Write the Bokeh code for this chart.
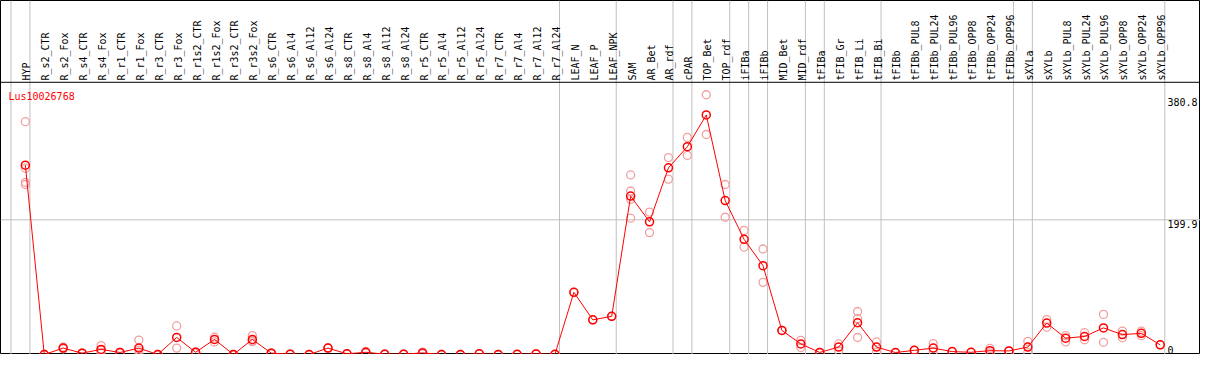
import numpy as np
from bokeh.plotting import figure
from bokeh.models import Range1d, ColumnDataSource, Span
from bokeh.core.properties import value
from bokeh.embed import file_html
from bokeh.resources import INLINE

title = "Lus10026768"

categories = [
    "HYP", "R_s2_CTR", "R_s2_Fox", "R_s4_CTR", "R_s4_Fox", "R_r1_CTR", "R_r1_Fox",
    "R_r3_CTR", "R_r3_Fox", "R_r1s2_CTR", "R_r1s2_Fox", "R_r3s2_CTR", "R_r3s2_Fox",
    "R_s6_CTR", "R_s6_Al4", "R_s6_Al12", "R_s6_Al24", "R_s8_CTR", "R_s8_Al4",
    "R_s8_Al12", "R_s8_Al24", "R_r5_CTR", "R_r5_Al4", "R_r5_Al12", "R_r5_Al24",
    "R_r7_CTR", "R_r7_Al4", "R_r7_Al12", "R_r7_Al24", "LEAF_N", "LEAF_P", "LEAF_NPK",
    "SAM", "AR_Bet", "AR_rdf", "cPAR", "TOP_Bet", "TOP_rdf", "iFIBa", "iFIBb",
    "MID_Bet", "MID_rdf", "tFIBa", "tFIB_Gr", "tFIB_Li", "tFIB_Bi", "tFIBb",
    "tFIBb_PUL8", "tFIBb_PUL24", "tFIBb_PUL96", "tFIBb_OPP8", "tFIBb_OPP24",
    "tFIBb_OPP96", "sXYLa", "sXYLb", "sXYLb_PUL8", "sXYLb_PUL24", "sXYLb_PUL96",
    "sXYLb_OPP8", "sXYLb_OPP24", "sXYLb_OPP96",
]

means = [
    281.0, 0.0, 9.5, 2.0, 7.6, 3.0, 9.5, 0.0, 25.3, 3.3, 22.4, 0.0, 22.4,
    2.0, 0.5, 0.0, 9.5, 1.0, 3.3, 0.5, 0.5, 2.4, 0.0, 0.0, 1.0,
    0.0, 0.3, 0.8, 0.3, 92.3, 51.4, 56.7,
    235.1, 197.0, 277.0, 308.4, 355.5, 228.4, 170.9, 131.8,
    35.7, 15.7, 3.0, 11.0, 47.1, 11.0, 2.9,
    6.2, 9.5, 4.3, 3.3, 5.7, 5.3,
    11.0, 46.7, 24.3, 26.7, 39.5, 29.5, 31.4, 14.3,
]

replicates = [
    [345.5, 276.5, 255.6, 252.3], [0.5, 0.0], [11.0, 8.5], [2.5, 1.5], [13.3, 3.0, 6.5],
    [3.0, 3.0], [21.4, 0.5, 6.5], [0.0, 0.0], [42.4, 9.5], [4.0, 2.5], [25.7, 18.6],
    [0.0, 0.0], [28.0, 19.0, 20.0], [2.5, 1.5], [0.5, 0.5], [0.0, 0.0], [10.0, 9.0],
    [1.0, 1.0], [4.5, 2.0], [0.5, 0.5], [0.5, 0.5], [3.5, 1.3], [0.0, 0.0], [0.0, 0.0],
    [1.0, 1.0], [0.0, 0.0], [0.3, 0.3], [0.8, 0.8], [0.3, 0.3], [92.3], [51.4], [56.7],
    [266.5, 242.7, 230.3, 202.3], [211.3, 180.9], [292.2, 260.3], [322.2, 295.5],
    [385.5, 326.5], [252.3, 203.7], [184.2, 159.5], [156.6, 107.1],
    [35.7], [21.0, 10.4], [3.0], [15.7, 5.3], [63.8, 53.3, 25.2], [18.6, 3.3], [2.9],
    [6.2, 6.2], [16.2, 4.3], [4.3], [3.3], [9.0, 2.3], [5.3],
    [19.5, 2.9], [51.8, 40.4], [28.1, 18.6], [32.4, 21.9], [59.5, 18.1], [34.7, 24.8],
    [34.7, 28.0], [14.3],
]

y_ticks = [0, 199.9, 380.8]
y_tick_labels = ["0", "199.9", "380.8"]
group_ends = [-1, 0, 28, 31, 34, 35, 37, 38, 39, 41, 42, 45, 52, 53, 60]

FONT = value("DejaVu Sans Mono")
W, H = 1200, 354
X0, X1 = -1.315, 62.13
YTOP = 525.4
HEADER = 404.0

p = figure(width=W, height=H, x_range=Range1d(X0, X1), y_range=Range1d(0, YTOP),
           x_axis_type=None, y_axis_type=None, toolbar_location=None,
           output_backend="svg", min_border=0)
p.outline_line_color = "black"
p.outline_line_width = 1
p.background_fill_color = "white"
p.border_fill_color = "white"

# group separators (vertical grid lines)
for g in group_ends:
    p.add_layout(Span(location=g + 0.24, dimension="height", line_color="#c0c0c0",
                      line_width=1, level="underlay"))
# horizontal grid line at middle tick
p.add_layout(Span(location=y_ticks[1], dimension="width", line_color="#c0c0c0",
                  line_width=1, level="underlay"))
# header separator
p.add_layout(Span(location=HEADER, dimension="width", line_color="black",
                  line_width=1, level="underlay"))

idx = list(range(len(categories)))

# category labels (rotated)
p.text(x=[i + 0.08 for i in idx], y=[HEADER + 2.5] * len(idx), text=categories,
       angle=np.pi / 2, text_font=FONT, text_font_size="10px", text_align="left",
       text_baseline="alphabetic", text_color="black")

# replicates
rx, ry = [], []
for i, reps in enumerate(replicates):
    for v in reps:
        rx.append(i)
        ry.append(v)
p.scatter(x=rx, y=ry, marker="circle", size=8, fill_color=None,
          line_color="#f0a0a0", line_width=1.3)

# mean line and markers
src = ColumnDataSource(dict(x=idx, y=means))
p.line(x="x", y="y", source=src, line_color="red", line_width=1)
p.scatter(x="x", y="y", source=src, marker="circle", size=8, fill_color=None,
          line_color="red", line_width=1.5)

# title
p.text(x=[X0 + 0.42], y=[382.6], text=[title], text_font=FONT, text_font_size="10px",
       text_color="red", text_align="left", text_baseline="alphabetic")

# y tick labels on right
TX = 60.38
p.text(x=[TX], y=[y_ticks[0]], text=[y_tick_labels[0]], text_font=FONT,
       text_font_size="10px", text_color="black", text_align="left",
       text_baseline="bottom", y_offset=-1)
p.text(x=[TX] * 2, y=y_ticks[1:], text=y_tick_labels[1:], text_font=FONT,
       text_font_size="10px", text_color="black", text_align="left",
       text_baseline="top")

open("out.html", "w").write(file_html(p, INLINE))
